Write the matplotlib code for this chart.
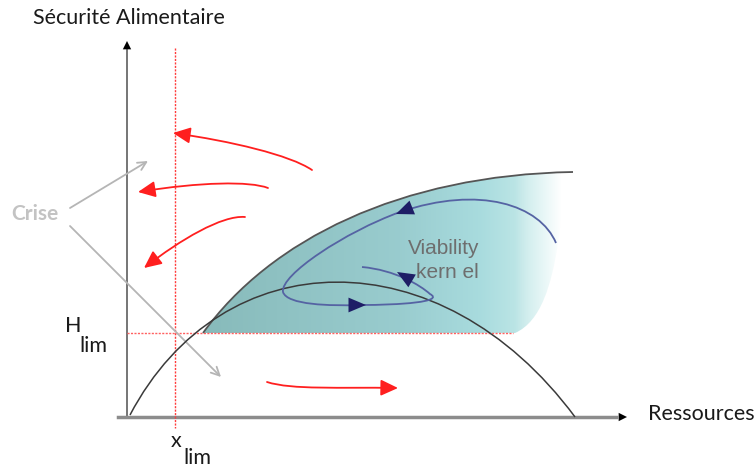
import numpy as np
import matplotlib
matplotlib.use("Agg")
import matplotlib.pyplot as plt
from matplotlib.path import Path
from matplotlib.patches import PathPatch, FancyArrowPatch

# everything is laid out in picture units (x right, y down)
y_axis_x = 127
x_axis_y = 417
x_lim = 175
h_lim = 333

# curves as bezier control points
parabola = [(130, 415), (222, 240), (440, 235), (575, 417)]
kernel_top = [(203, 333), (270, 240), (400, 175), (573, 172)]
kernel_right = [(573, 172), (556, 178), (568, 310), (515, 333)]
trajectory = [(556, 243), (540, 205), (480, 185), (400, 212),
              (345, 232), (280, 275), (283, 292),
              (287, 305), (330, 306), (360, 305),
              (400, 305), (445, 302), (430, 294),
              (420, 285), (395, 270), (362, 267)]
traj_heads = [((416, 206), (396, 214)), ((343, 305), (366, 305)), ((414, 282), (397, 272))]
red_flows = [
    [(312, 170), (290, 155), (230, 141), (173, 133)],
    [(268, 188), (250, 181), (200, 182), (138, 192)],
    [(245, 217), (222, 215), (180, 240), (144, 268)],
    [(267, 382), (292, 390), (340, 387), (398, 388)],
]
crise_arrows = [((70, 208), (148, 161)), ((70, 226), (221, 377))]

fig = plt.figure(figsize=(7.54, 4.68), dpi=100)
ax = fig.add_axes([0, 0, 1, 1])

def bez(pts):
    codes = [Path.MOVETO] + [Path.CURVE4] * (len(pts) - 1)
    return Path(pts, codes)

# viability kernel: teal fill fading to white on the right
verts = kernel_top + kernel_right[1:] + [(203, h_lim), (203, h_lim)]
codes = [Path.MOVETO] + [Path.CURVE4] * 6 + [Path.LINETO, Path.CLOSEPOLY]
kpatch = PathPatch(Path(verts, codes), facecolor='none', edgecolor='none')
ax.add_patch(kpatch)
gx = np.linspace(200, 575, 400)
stops = [200, 400, 480, 530]
r = np.interp(gx, stops, [0.53, 0.60, 0.66, 0.76])
g = np.interp(gx, stops, [0.73, 0.80, 0.86, 0.91])
b = np.interp(gx, stops, [0.73, 0.81, 0.87, 0.91])
a = np.interp(gx, [200, 515, 562], [1, 1, 0])
img = np.stack([r, g, b, a], axis=-1)[None, :, :].repeat(10, axis=0)
im = ax.imshow(img, extent=(200, 575, 335, 168), aspect='auto', zorder=1)
im.set_clip_path(kpatch)
ax.set_xlim(0, 754)
ax.set_ylim(468, 0)
ax.axis('off')

ax.add_patch(PathPatch(bez(kernel_top), facecolor='none', edgecolor='#555555', lw=1.3, zorder=4))
ax.add_patch(PathPatch(bez(parabola), facecolor='none', edgecolor='#3a3a3a', lw=1.1, zorder=4))

# limits
ax.plot([x_lim, x_lim], [48, 428], color='#ff3b3b', lw=1, ls=(0, (1.5, 1)), zorder=3)
ax.plot([y_axis_x, 513], [h_lim, h_lim], color='#ff6060', lw=1, ls=(0, (1.5, 1)), zorder=3)

# axes with arrows
ax.plot([y_axis_x, y_axis_x], [x_axis_y, 50], color='#6a6a6a', lw=1.3, zorder=2)
ax.plot([118, 616], [x_axis_y, x_axis_y], color='#8c8c8c', lw=2.5, zorder=2)
ax.annotate('', xy=(y_axis_x, 41), xytext=(y_axis_x, 53),
            arrowprops=dict(arrowstyle='-|>,head_length=0.6,head_width=0.3', color='black', lw=0, shrinkA=0, shrinkB=0))
ax.annotate('', xy=(627, x_axis_y), xytext=(612, x_axis_y),
            arrowprops=dict(arrowstyle='-|>,head_length=0.6,head_width=0.3', color='black', lw=0, shrinkA=0, shrinkB=0))

# trajectory inside the kernel
ax.add_patch(PathPatch(bez(trajectory), facecolor='none', edgecolor='#5563a3', lw=1.3, zorder=5))
for tail, tip in traj_heads:
    ax.annotate('', xy=tip, xytext=tail, zorder=6,
                arrowprops=dict(arrowstyle='-|>,head_length=0.9,head_width=0.38', color='#1e1e66',
                                lw=0, shrinkA=0, shrinkB=0, mutation_scale=14))

# red flows outside
for fl in red_flows:
    ax.add_patch(FancyArrowPatch(path=bez(fl), arrowstyle='-|>,head_length=0.75,head_width=0.35',
                                 mutation_scale=14, color='#ff1f1f', lw=1.3, zorder=5))

# crise
for tail, tip in crise_arrows:
    ax.annotate('', xy=tip, xytext=tail,
                arrowprops=dict(arrowstyle='->,head_length=0.6,head_width=0.3', color='#b5b5b5', lw=1.3, shrinkA=0, shrinkB=0))

ax.text(33, 18, 'Sécurité Alimentaire', family='Lato', fontsize=15.5, color='#1a1a1a', va='center', ha='left')
ax.text(648, 414, 'Ressources', family='Lato', fontsize=15.5, color='#1a1a1a', va='center', ha='left')
ax.text(11, 214, 'Crise', family='Lato', fontsize=15, weight='bold', color='#c3c3c3', va='center', ha='left')
ax.text(65, 326, 'H', family='Lato', fontsize=15.5, color='#1a1a1a', va='center', ha='left')
ax.text(79, 346, 'lim', family='Lato', fontsize=15.5, color='#1a1a1a', va='center', ha='left')
ax.text(176, 441, 'x', family='Lato', fontsize=15.5, color='#1a1a1a', va='center', ha='center')
ax.text(183, 458, 'lim', family='Lato', fontsize=15.5, color='#1a1a1a', va='center', ha='left')
ax.text(408, 248, 'Viability', family='Liberation Sans', fontsize=15, color='#6e6e6e', va='center', ha='left')
ax.text(416, 273, 'kern el', family='Liberation Sans', fontsize=15, color='#6e6e6e', va='center', ha='left')

fig.savefig('out.png', dpi=100)
